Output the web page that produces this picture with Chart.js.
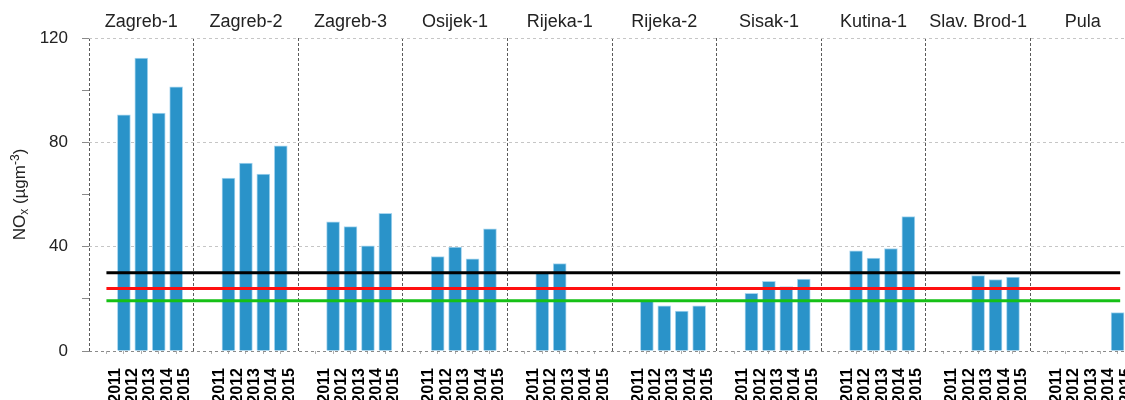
<!DOCTYPE html>
<html><head><meta charset="utf-8">
<script src="https://cdn.jsdelivr.net/npm/chart.js@4/dist/chart.umd.min.js"></script>
<style>html,body{margin:0;padding:0;background:#fff;overflow:hidden;width:1125px;height:400px}
canvas{display:block}</style></head>
<body><canvas id="c" width="1140" height="400"></canvas>
<script>
// ---- data ----
const stations = ['Zagreb-1','Zagreb-2','Zagreb-3','Osijek-1','Rijeka-1','Rijeka-2','Sisak-1','Kutina-1','Slav. Brod-1','Pula'];
const years = ['2011','2012','2013','2014','2015'];
const zagreb1  = [null, 90.5, 112.3, 91.2, 101.3];
const zagreb2  = [null, 66.3, 72.0, 67.8, 78.7];
const zagreb3  = [null, 49.5, 47.7, 40.3, 52.8];
const osijek1  = [null, 36.2, 39.8, 35.3, 46.8];
const rijeka1  = [null, 30.3, 33.5, null, null];
const rijeka2  = [null, 19.4, 17.3, 15.3, 17.3];
const sisak1   = [null, 22.1, 26.7, 24.7, 27.6];
const kutina1  = [null, 38.4, 35.6, 39.3, 51.5];
const slavBrod1= [null, null, 28.9, 27.4, 28.3];
const pula     = [null, null, null, null, 14.7];
const stationValues = [zagreb1, zagreb2, zagreb3, osijek1, rijeka1, rijeka2, sisak1, kutina1, slavBrod1, pula];
const limitValues = [30, 24, 19.3];
const yTickValues = [0, 20, 40, 60, 80, 100, 120];
const yLabelValues = [0, 40, 80, 120];

// ---- layout helpers (slots per station group) ----
const SLOTS = 6;
const nSlots = stations.length * SLOTS;
const FONT = "'Liberation Sans', Arial, sans-serif";
const CLEAR = 'rgba(0,0,0,0)';
const tv = c => (c && c.tick ? c.tick.value : null);
const noPad = scale => { scale.paddingLeft = 0; scale.paddingRight = 0; };

const barData = [];
stationValues.forEach((vals, s) => {
  vals.forEach((v, yi) => { if (v !== null) barData.push({x: s * SLOTS + yi + 1, y: v}); });
});
const lineStart = 1, lineEnd = 59.15;
const limitColors = ['#000000', '#ff1010', '#16c016'];
const limitSets = limitValues.map((v, i) => ({
  type: 'line', data: [{x: lineStart, y: v}, {x: lineEnd, y: v}],
  borderColor: limitColors[i], borderWidth: 3, pointRadius: 0, fill: false, order: 0,
  xAxisID: 'x', yAxisID: 'y'
}));

const yTitle = {
  id: 'yTitle',
  afterDraw(chart) {
    const ctx = chart.ctx;
    const parts = [
      {t: 'NO', s: 17, d: 0},
      {t: 'x', s: 12, d: 3},
      {t: ' (µgm', s: 17, d: 0},
      {t: '-3', s: 12, d: -6},
      {t: ')', s: 17, d: 0}
    ];
    ctx.save();
    let total = 0;
    parts.forEach(p => { ctx.font = p.s + 'px ' + FONT; p.w = ctx.measureText(p.t).width; total += p.w; });
    const cy = (chart.chartArea.top + chart.chartArea.bottom) / 2;
    ctx.translate(25, cy);
    ctx.rotate(-Math.PI / 2);
    ctx.fillStyle = '#222';
    ctx.textBaseline = 'alphabetic';
    let x = -total / 2;
    parts.forEach(p => { ctx.font = p.s + 'px ' + FONT; ctx.fillText(p.t, x, p.d); x += p.w; });
    ctx.restore();
  }
};

new Chart(document.getElementById('c'), {
  data: {
    datasets: [
      ...limitSets,
      {type: 'bar', data: barData, backgroundColor: '#2a93c9', borderColor: '#a9d6ef', borderWidth: 1,
       barThickness: 13, order: 1, xAxisID: 'x', yAxisID: 'y'}
    ]
  },
  options: {
    responsive: false, animation: false, devicePixelRatio: 1,
    layout: {padding: {left: 0, right: 5, top: 0, bottom: 0}},
    plugins: {legend: {display: false}, tooltip: {enabled: false}},
    scales: {
      x: {
        type: 'linear', position: 'bottom', min: 0, max: nSlots, offset: false,
        afterBuildTicks(scale) {
          const t = []; for (let k = 0; k <= nSlots * 2; k++) t.push({value: k / 2}); scale.ticks = t;
        },
        afterFit(scale) { scale.height = 49; noPad(scale); },
        border: {display: false, dash: [3, 2]},
        grid: {
          offset: false,
          color: c => { const v = tv(c); return (v !== null && Math.abs(v % SLOTS) < 1e-6) ? '#5a5a5a' : CLEAR; },
          tickColor: c => { const v = tv(c); return (v !== null && Math.abs(v - Math.round(v)) < 1e-6 && Math.round(v) % SLOTS !== 0) ? '#b0b0b0' : CLEAR; },
          tickLength: 3, lineWidth: 1
        },
        ticks: {
          autoSkip: false, minRotation: 90, maxRotation: 90, padding: 14,
          color: '#000', font: {family: FONT, size: 16, weight: 'bold'},
          callback(v) {
            const k = Math.round(v * 2);
            if (k % 2 === 0) return '';
            const slot = ((k - 1) / 2) % SLOTS;
            return (slot >= 1 && slot <= years.length) ? years[slot - 1] : '';
          }
        }
      },
      x2: {
        type: 'linear', position: 'top', min: 0, max: nSlots, offset: false,
        afterBuildTicks(scale) { scale.ticks = stations.map((s, i) => ({value: i * SLOTS + SLOTS / 2})); },
        afterFit(scale) { scale.height = 38; noPad(scale); },
        border: {display: false},
        grid: {display: false, drawTicks: false},
        ticks: {
          autoSkip: false, maxRotation: 0, padding: 5, color: '#222', font: {family: FONT, size: 18},
          callback(v) { return stations[Math.round((v - SLOTS / 2) / SLOTS)]; }
        }
      },
      y: {
        type: 'linear', min: 0, max: 120,
        afterBuildTicks(scale) { scale.ticks = yTickValues.map(v => ({value: v})); },
        afterFit(scale) { scale.width = 89; },
        border: {display: false, dash: [3, 3]},
        grid: {
          color: c => { const v = tv(c); return v === 0 ? '#8a8a8a' : (yLabelValues.includes(v) ? '#c6c6c6' : CLEAR); },
          tickColor: '#8a8a8a', tickLength: 7, lineWidth: 1
        },
        ticks: {
          autoSkip: false, padding: 14, color: '#222', font: {family: FONT, size: 17},
          callback(v) { return yLabelValues.includes(v) ? String(v) : ''; }
        }
      }
    }
  },
  plugins: [yTitle]
});
</script>
</body></html>
